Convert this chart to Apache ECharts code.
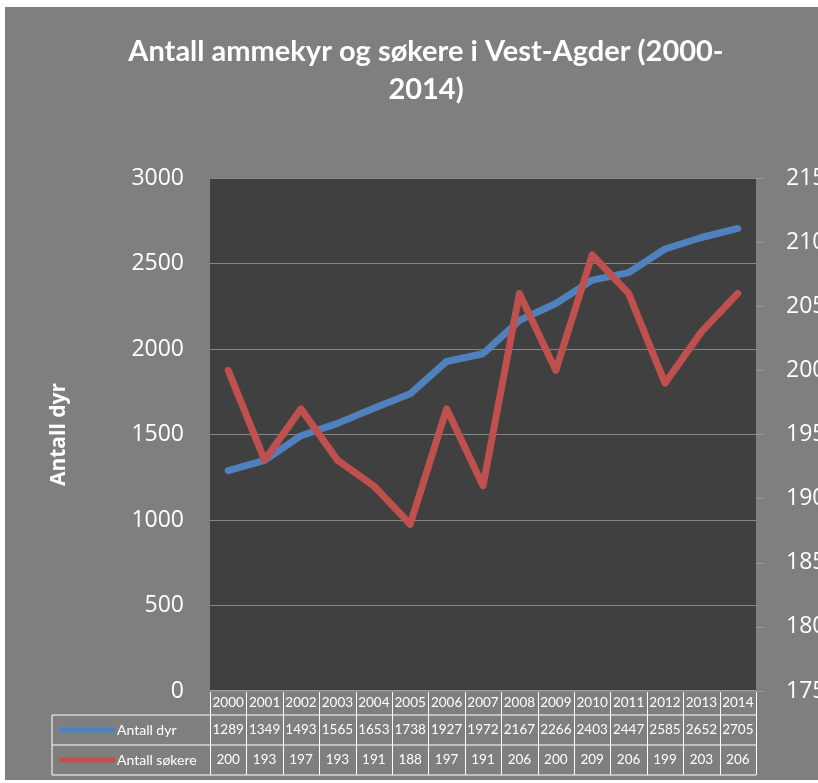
<!DOCTYPE html>
<html>
<head>
<meta charset="utf-8">
<script src="https://cdn.jsdelivr.net/npm/echarts@6/dist/echarts.min.js"></script>
<style>
  html, body { margin: 0; padding: 0; background: #ffffff; }
  #main { width: 818px; height: 783px; }
</style>
</head>
<body>
<div id="main"></div>
<script>
var years = ['2000','2001','2002','2003','2004','2005','2006','2007','2008','2009','2010','2011','2012','2013','2014'];
var antallDyr = [1289,1349,1493,1565,1653,1738,1927,1972,2167,2266,2403,2447,2585,2652,2705];
var antallSokere = [200,193,197,193,191,188,197,191,206,200,209,206,199,203,206];
var seriesNames = ['Antall dyr', 'Antall søkere'];
var seriesColors = ['#4f81bd', '#c0504d'];

var W = 818, H = 783;
var gridLeft = 210, gridRight = 62, gridTop = 178, gridBottom = 92;
var plotBottom = H - gridBottom;
var cellW = (W - gridLeft - gridRight) / years.length;
var headH = 24, rowH = 30, legendLeft = 52;
var tableFont = '13.5px Lato';

// table under the plot (years + values)
function buildTable() {
  var els = [];
  var right = W - gridRight;
  var y0 = plotBottom, y1 = y0 + headH, y2 = y1 + rowH, y3 = y2 + rowH;
  var line = function (x1, ya, x2, yb) {
    els.push({ type: 'line', shape: { x1: x1, y1: ya, x2: x2, y2: yb },
      style: { stroke: '#ffffff', lineWidth: 1 }, silent: true });
  };
  line(gridLeft, y0, right, y0);
  line(legendLeft, y1, right, y1);
  line(legendLeft, y2, right, y2);
  line(legendLeft, y3, right, y3);
  line(legendLeft, y1, legendLeft, y3);
  for (var i = 0; i <= years.length; i++) {
    var x = Math.round(gridLeft + i * cellW) + 0.5;
    line(x, y0, x, y3);
  }
  var rows = [antallDyr, antallSokere];
  for (var i = 0; i < years.length; i++) {
    var cx = gridLeft + (i + 0.5) * cellW;
    els.push({ type: 'text', x: cx, y: (y0 + y1) / 2, silent: true,
      style: { text: years[i], fill: '#ffffff', font: tableFont, align: 'center', verticalAlign: 'middle' } });
    for (var r = 0; r < rows.length; r++) {
      var ry = y1 + r * rowH + rowH / 2;
      els.push({ type: 'text', x: cx, y: ry, silent: true,
        style: { text: String(rows[r][i]), fill: '#ffffff', font: tableFont, align: 'center', verticalAlign: 'middle' } });
    }
  }
  for (var r = 0; r < rows.length; r++) {
    var ry = y1 + r * rowH + rowH / 2;
    els.push({ type: 'line', shape: { x1: 61, y1: ry, x2: 113, y2: ry }, silent: true,
      style: { stroke: seriesColors[r], lineWidth: 5, lineCap: 'round' } });
    els.push({ type: 'text', x: 117, y: ry, silent: true,
      style: { text: seriesNames[r], fill: '#ffffff', font: '14px Lato', align: 'left', verticalAlign: 'middle' } });
  }
  return els;
}

var chart = echarts.init(document.getElementById('main'));
var option = {
  backgroundColor: '#ffffff',
  animation: false,
  title: {
    text: 'Antall ammekyr og søkere i Vest-Agder (2000-\n2014)',
    left: 421,
    textAlign: 'center',
    top: 28,
    textStyle: { color: '#ffffff', fontSize: 29, fontWeight: 'bold', fontFamily: 'Lato', lineHeight: 38 }
  },
  grid: {
    left: gridLeft, right: gridRight, top: gridTop, bottom: gridBottom,
    outerBoundsMode: 'none',
    show: true, backgroundColor: '#404040', borderWidth: 0
  },
  xAxis: {
    type: 'category',
    data: years,
    boundaryGap: true,
    axisLine: { show: false },
    axisTick: { show: false },
    axisLabel: { show: false }
  },
  yAxis: [{
    type: 'value',
    min: 0, max: 3000, interval: 500,
    name: 'Antall dyr',
    nameLocation: 'middle',
    nameRotate: 90,
    nameGap: 140,
    nameTextStyle: { color: '#ffffff', fontSize: 21, fontWeight: 'bold', fontFamily: 'Open Sans' },
    axisLine: { show: false },
    axisTick: { show: false },
    axisLabel: { color: '#ffffff', fontSize: 23, fontFamily: 'Open Sans', margin: 26, formatter: function (v) { return String(v); } },
    splitLine: { lineStyle: { color: '#868686', width: 1 } }
  }, {
    type: 'value',
    position: 'right',
    min: 175, max: 215, interval: 5,
    axisLine: { show: false },
    axisTick: { show: true, length: 8, lineStyle: { color: '#999999' } },
    axisLabel: { color: '#ffffff', fontSize: 23, fontFamily: 'Open Sans', margin: 30 },
    splitLine: { show: false }
  }],
  series: [{
    name: seriesNames[0],
    type: 'line',
    yAxisIndex: 0,
    data: antallDyr,
    symbol: 'none',
    lineStyle: { color: seriesColors[0], width: 7, cap: 'round', join: 'round' }
  }, {
    name: seriesNames[1],
    type: 'line',
    yAxisIndex: 1,
    data: antallSokere,
    symbol: 'none',
    lineStyle: { color: seriesColors[1], width: 7, cap: 'round', join: 'round' }
  }],
  graphic: [{
    type: 'rect', z: -10, silent: true,
    shape: { x: 5, y: 7, width: W - 5, height: 773 },
    style: { fill: '#7f7f7f' }
  }].concat(buildTable())
};
chart.setOption(option);
</script>
</body>
</html>
